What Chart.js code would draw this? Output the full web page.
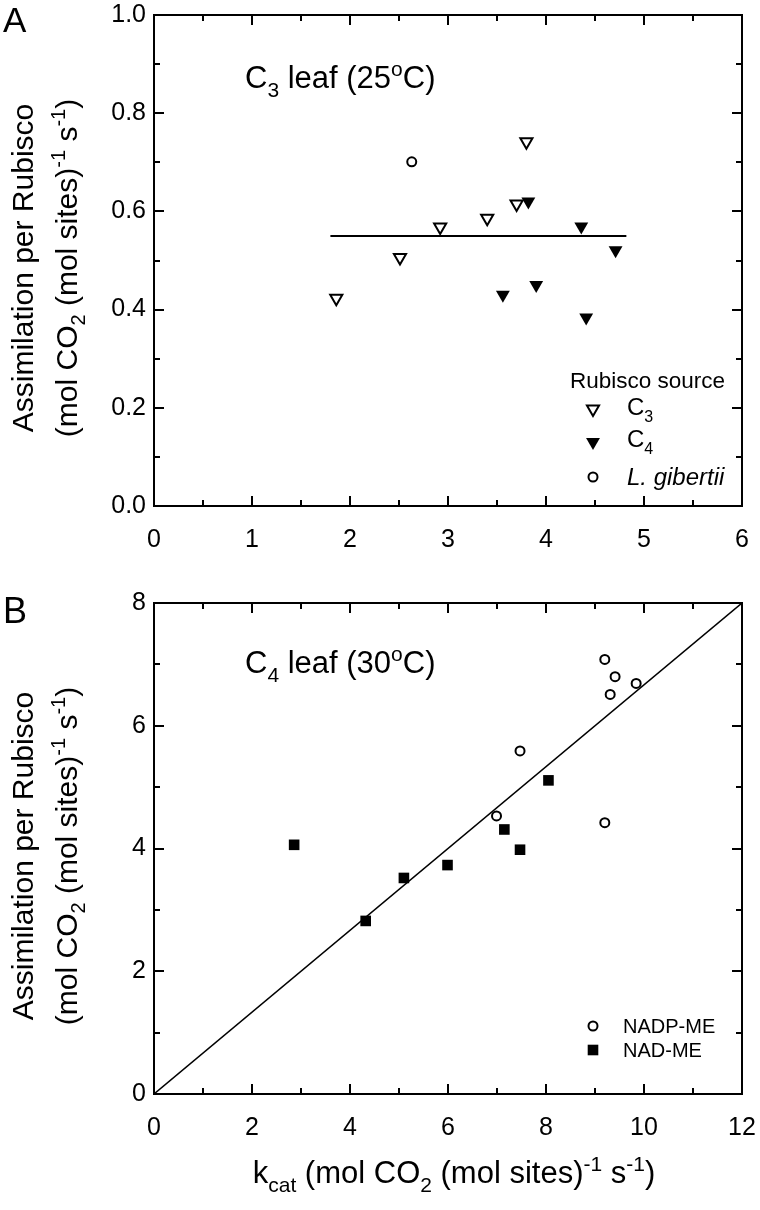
<!DOCTYPE html>
<html><head><meta charset="utf-8">
<script src="https://cdn.jsdelivr.net/npm/chart.js@4.4.1/dist/chart.umd.min.js"></script>
<style>
html,body{margin:0;padding:0;background:#fff;}
#wrap{position:relative;width:760px;height:1210px;background:#fff;}
canvas{position:absolute;left:0;}
</style>
</head><body>
<div id="wrap">
<canvas id="cA" width="760" height="590" style="top:0px"></canvas>
<canvas id="cB" width="760" height="620" style="top:590px"></canvas>
</div>
<script>
// ---------- DATA : panel A (C3 leaf, 25 C) ----------
const aC3X = [1.86, 2.51, 2.92, 3.40, 3.70, 3.80];
const aC3Y = [0.423, 0.506, 0.568, 0.586, 0.615, 0.742];
const aC4X = [3.56, 3.82, 3.90, 4.36, 4.41, 4.71];
const aC4Y = [0.430, 0.620, 0.450, 0.569, 0.384, 0.521];
const aLgX = [2.63];
const aLgY = [0.701];
const aMeanX = [1.80, 4.82];
const aMeanY = [0.55, 0.55];
const aXTicks = [0, 1, 2, 3, 4, 5, 6];
const aYTicks = [0, 0.2, 0.4, 0.6, 0.8, 1.0];

// ---------- DATA : panel B (C4 leaf, 30 C) ----------
const bNadpX = [9.20, 9.41, 9.31, 9.84, 7.47, 6.99, 9.20];
const bNadpY = [7.08, 6.80, 6.51, 6.69, 5.59, 4.53, 4.42];
const bNadX = [2.86, 4.32, 5.10, 5.99, 7.15, 7.47, 8.05];
const bNadY = [4.06, 2.82, 3.52, 3.73, 4.31, 3.98, 5.11];
const bLineX = [0, 12];
const bLineY = [0, 8];
const bXTicks = [0, 2, 4, 6, 8, 10, 12];
const bYTicks = [0, 2, 4, 6, 8];

const FONT = '"Liberation Sans", Arial, Helvetica, sans-serif';
const zip = (xs, ys) => xs.map((x, i) => ({x: x, y: ys[i]}));

function drawRich(ctx, parts, x, y, size, align) {
  const fontFor = p => (p.it ? 'italic ' : '') + (p.sub || p.sup ? Math.round(size * 0.68) : size) + 'px ' + FONT;
  let w = 0;
  for (const p of parts) { ctx.font = fontFor(p); w += ctx.measureText(p.t).width; }
  let cx = align === 'center' ? x - w / 2 : (align === 'right' ? x - w : x);
  ctx.textAlign = 'left'; ctx.textBaseline = 'alphabetic'; ctx.fillStyle = '#000';
  for (const p of parts) {
    ctx.font = fontFor(p);
    const dy = p.sub ? size * 0.28 : (p.sup ? -size * 0.40 : 0);
    ctx.fillText(p.t, cx, y + dy);
    cx += ctx.measureText(p.t).width;
  }
}

function marker(ctx, style, x, y, r, filled, bw, rot) {
  ctx.save();
  ctx.fillStyle = filled ? '#000' : 'rgba(0,0,0,0)';
  ctx.strokeStyle = '#000';
  ctx.lineWidth = bw;
  if (Chart.helpers && Chart.helpers.drawPoint) {
    Chart.helpers.drawPoint(ctx, {pointStyle: style, radius: r, rotation: rot || 0, borderWidth: bw}, x, y);
  }
  ctx.restore();
}

const yTitle = [
  [{t: 'Assimilation per Rubisco'}],
  [{t: '(mol CO'}, {t: '2', sub: 1}, {t: ' (mol sites)'}, {t: '-1', sup: 1}, {t: ' s'}, {t: '-1', sup: 1}, {t: ')'}]
];

function drawYTitle(ctx, cy) {
  ctx.save();
  ctx.translate(33, cy); ctx.rotate(-Math.PI / 2);
  drawRich(ctx, yTitle[0], 0, 0, 30, 'center');
  ctx.restore();
  ctx.save();
  ctx.translate(77, cy); ctx.rotate(-Math.PI / 2);
  drawRich(ctx, yTitle[1], 0, 0, 30, 'center');
  ctx.restore();
}

// frame + inward ticks (major and minor) on all four sides
const framePlugin = {
  id: 'frame',
  afterDatasetsDraw(chart) {
    const ctx = chart.ctx, a = chart.chartArea, xs = chart.scales.x, ys = chart.scales.y;
    ctx.save();
    ctx.strokeStyle = '#000'; ctx.lineWidth = 2;
    ctx.strokeRect(a.left, a.top, a.right - a.left, a.bottom - a.top);
    const xt = xs.ticks.map(t => t.value), yt = ys.ticks.map(t => t.value);
    const vx = [], vy = [];
    for (let i = 0; i < xt.length; i++) { vx.push([xt[i], 10]); if (i < xt.length - 1) vx.push([(xt[i] + xt[i + 1]) / 2, 6]); }
    for (let i = 0; i < yt.length; i++) { vy.push([yt[i], 10]); if (i < yt.length - 1) vy.push([(yt[i] + yt[i + 1]) / 2, 6]); }
    ctx.beginPath();
    for (const [v, L] of vx) {
      const px = Math.round(xs.getPixelForValue(v));
      if (px <= a.left + 1 || px >= a.right - 1) continue;
      ctx.moveTo(px, a.bottom); ctx.lineTo(px, a.bottom - L);
      ctx.moveTo(px, a.top); ctx.lineTo(px, a.top + L);
    }
    for (const [v, L] of vy) {
      const py = Math.round(ys.getPixelForValue(v));
      if (py <= a.top + 1 || py >= a.bottom - 1) continue;
      ctx.moveTo(a.left, py); ctx.lineTo(a.left + L, py);
      ctx.moveTo(a.right, py); ctx.lineTo(a.right - L, py);
    }
    ctx.stroke();
    ctx.restore();
  }
};

const textA = {
  id: 'textA',
  afterDraw(chart) {
    const ctx = chart.ctx;
    ctx.save();
    ctx.fillStyle = '#000';
    ctx.font = '35px ' + FONT; ctx.textAlign = 'left'; ctx.textBaseline = 'alphabetic';
    ctx.fillText('A', 3, 32);
    drawYTitle(ctx, 268);
    drawRich(ctx, [{t: 'C'}, {t: '3', sub: 1}, {t: ' leaf (25'}, {t: 'o', sup: 1}, {t: 'C)'}], 245, 88, 31, 'left');
    drawRich(ctx, [{t: 'Rubisco source'}], 570, 388, 22.5, 'left');
    marker(ctx, 'triangle', 593, 409, 7, false, 2, 180);
    marker(ctx, 'triangle', 593, 442, 8, true, 0, 180);
    marker(ctx, 'circle', 593, 477, 4.5, false, 2, 0);
    drawRich(ctx, [{t: 'C'}, {t: '3', sub: 1}], 627, 415, 24, 'left');
    drawRich(ctx, [{t: 'C'}, {t: '4', sub: 1}], 627, 447, 24, 'left');
    drawRich(ctx, [{t: 'L. gibertii', it: 1}], 627, 485, 24, 'left');
    ctx.restore();
  }
};

const textB = {
  id: 'textB',
  afterDraw(chart) {
    const ctx = chart.ctx;
    ctx.save();
    ctx.fillStyle = '#000';
    ctx.font = '36px ' + FONT; ctx.textAlign = 'left'; ctx.textBaseline = 'alphabetic';
    ctx.fillText('B', 3, 33);
    drawYTitle(ctx, 266);
    drawRich(ctx, [{t: 'C'}, {t: '4', sub: 1}, {t: ' leaf (30'}, {t: 'o', sup: 1}, {t: 'C)'}], 245, 83, 31, 'left');
    drawRich(ctx, [{t: 'k'}, {t: 'cat', sub: 1}, {t: ' (mol CO'}, {t: '2', sub: 1}, {t: ' (mol sites)'}, {t: '-1', sup: 1}, {t: ' s'}, {t: '-1', sup: 1}, {t: ')'}], 454, 593, 31, 'center');
    marker(ctx, 'circle', 593, 436, 4.5, false, 2, 0);
    marker(ctx, 'rect', 593, 460, 7.5, true, 0, 0);
    drawRich(ctx, [{t: 'NADP-ME'}], 623, 443, 20, 'left');
    drawRich(ctx, [{t: 'NAD-ME'}], 623, 467, 20, 'left');
    ctx.restore();
  }
};

function scales(xmin, xmax, xt, ymin, ymax, yt, xh, yfmt) {
  return {
    x: {
      type: 'linear', min: xmin, max: xmax,
      afterBuildTicks: s => { s.ticks = xt.map(v => ({value: v})); },
      afterFit: s => { s.height = xh; s.paddingLeft = 0; s.paddingRight = 0; },
      grid: {display: false, drawTicks: false}, border: {display: false},
      ticks: {color: '#000', font: {family: FONT, size: 25, lineHeight: 1}, padding: 22, maxRotation: 0, autoSkip: false,
        callback: v => String(v)}
    },
    y: {
      type: 'linear', min: ymin, max: ymax,
      afterBuildTicks: s => { s.ticks = yt.map(v => ({value: v})); },
      afterFit: s => { s.width = 154; s.paddingTop = 0; s.paddingBottom = 0; },
      grid: {display: false, drawTicks: false}, border: {display: false},
      ticks: {color: '#000', font: {family: FONT, size: 25, lineHeight: 1}, padding: 8, autoSkip: false,
        callback: yfmt}
    }
  };
}

const common = {
  responsive: false, animation: false, devicePixelRatio: 1,
  plugins: {legend: {display: false}, tooltip: {enabled: false}},
  events: []
};

new Chart(document.getElementById('cA'), {
  type: 'scatter',
  data: {
    datasets: [
      {type: 'line', data: zip(aMeanX, aMeanY), borderColor: '#000', borderWidth: 2, pointRadius: 0, fill: false, showLine: true},
      {data: zip(aC3X, aC3Y), pointStyle: 'triangle', rotation: 180, pointRadius: 7, pointBorderWidth: 2, pointBorderColor: '#000', pointBackgroundColor: 'rgba(0,0,0,0)'},
      {data: zip(aC4X, aC4Y), pointStyle: 'triangle', rotation: 180, pointRadius: 8, pointBorderWidth: 0, pointBorderColor: '#000', pointBackgroundColor: '#000'},
      {data: zip(aLgX, aLgY), pointStyle: 'circle', pointRadius: 4.5, pointBorderWidth: 2, pointBorderColor: '#000', pointBackgroundColor: 'rgba(0,0,0,0)'}
    ]
  },
  options: Object.assign({}, common, {
    layout: {padding: {left: 0, right: 18, top: 15, bottom: 0}},
    scales: scales(0, 6, aXTicks, 0, 1, aYTicks, 84, v => Number(v).toFixed(1))
  }),
  plugins: [framePlugin, textA]
});

new Chart(document.getElementById('cB'), {
  type: 'scatter',
  data: {
    datasets: [
      {type: 'line', data: zip(bLineX, bLineY), borderColor: '#000', borderWidth: 1.5, pointRadius: 0, fill: false, showLine: true},
      {data: zip(bNadpX, bNadpY), pointStyle: 'circle', pointRadius: 4.5, pointBorderWidth: 2, pointBorderColor: '#000', pointBackgroundColor: 'rgba(0,0,0,0)'},
      {data: zip(bNadX, bNadY), pointStyle: 'rect', pointRadius: 7.5, pointBorderWidth: 0, pointBorderColor: '#000', pointBackgroundColor: '#000'}
    ]
  },
  options: Object.assign({}, common, {
    layout: {padding: {left: 0, right: 18, top: 13, bottom: 0}},
    scales: scales(0, 12, bXTicks, 0, 8, bYTicks, 116, v => String(v))
  }),
  plugins: [framePlugin, textB]
});
</script>
</body></html>
